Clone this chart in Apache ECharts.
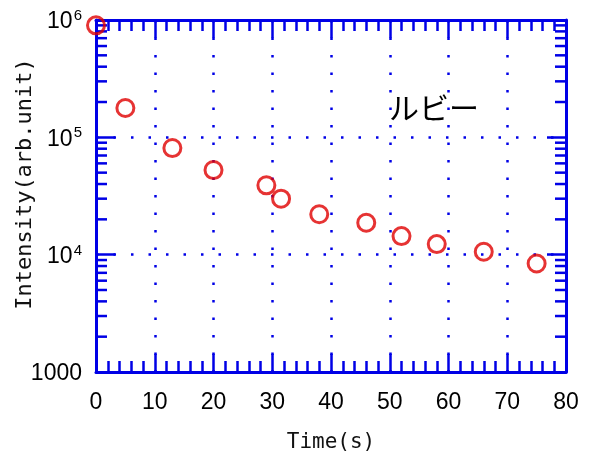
<!DOCTYPE html>
<html>
<head>
<meta charset="UTF-8">
<title>ルビー</title>
<style>
  html, body { margin: 0; padding: 0; background: #fff; }
  #chart { width: 592px; height: 461px; }
</style>
</head>
<body>
<div id="chart"></div>
<script src="https://cdn.jsdelivr.net/npm/echarts@6/dist/echarts.min.js"></script>
<script>
var timeSec = [0, 5, 13, 20, 29, 31.5, 38, 46, 52, 58, 66, 75];
var intensity = [900000, 178000, 81000, 52600, 39000, 30000, 22100, 18700, 14400, 12300, 10600, 8400];

// log minor ticks (2..9 in every decade)
var minorTickValues = [
  2000, 3000, 4000, 5000, 6000, 7000, 8000, 9000,
  20000, 30000, 40000, 50000, 60000, 70000, 80000, 90000,
  200000, 300000, 400000, 500000, 600000, 700000, 800000, 900000
];

var blue = '#0000e6';
var points = timeSec.map(function (t, i) { return [t, intensity[i]]; });

var chart = echarts.init(document.getElementById('chart'));

function renderMinor(params, api) {
  var y = api.coord([0, api.value(0)])[1];
  var cs = params.coordSys;
  var len = 11;
  var st = { stroke: blue, lineWidth: 2.5 };
  return {
    type: 'group',
    children: [
      { type: 'line', shape: { x1: cs.x, y1: y, x2: cs.x + len, y2: y }, style: st },
      { type: 'line', shape: { x1: cs.x + cs.width - len, y1: y, x2: cs.x + cs.width, y2: y }, style: st }
    ]
  };
}

var dotted = { color: blue, width: 2.5, type: [2.5, 15] };

var option = {
  animation: false,
  grid: { left: 96, right: 26, top: 20, bottom: 89 },
  xAxis: [{
    type: 'value',
    min: 0, max: 80, interval: 10,
    name: 'Time(s)',
    nameLocation: 'middle',
    nameGap: 60,
    nameTextStyle: { fontFamily: 'DejaVu Sans Mono', fontSize: 21, color: '#111' },
    axisLine: { show: true, onZero: false, lineStyle: { color: blue, width: 3 } },
    axisTick: { show: true, inside: true, length: 18, lineStyle: { color: blue, width: 2.5 } },
    minorTick: { show: true, splitNumber: 5, length: 11, lineStyle: { color: blue, width: 2.5 } },
    axisLabel: { fontFamily: 'Liberation Sans', fontSize: 23, color: '#000', margin: 19 },
    splitLine: { show: true, lineStyle: dotted }
  }, {
    type: 'value',
    position: 'top',
    min: 0, max: 80, interval: 10,
    axisLine: { show: true, onZero: false, lineStyle: { color: blue, width: 3 } },
    axisTick: { show: true, inside: true, length: 18, lineStyle: { color: blue, width: 2.5 } },
    minorTick: { show: true, splitNumber: 5, length: 11, lineStyle: { color: blue, width: 2.5 } },
    axisLabel: { show: false },
    splitLine: { show: false }
  }],
  yAxis: [{
    type: 'log',
    logBase: 10,
    min: 1000, max: 1000000,
    axisLine: { show: true, onZero: false, lineStyle: { color: blue, width: 3 } },
    axisTick: { show: true, inside: true, length: 19, lineStyle: { color: blue, width: 2.5 } },
    axisLabel: {
      margin: 14,
      fontFamily: 'Liberation Sans', fontSize: 23, color: '#000',
      padding: [4, 0, 0, 0],
      formatter: function (v) {
        if (v <= 1000) return '1000';
        return '10{sup|' + Math.round(Math.log10(v)) + '}';
      },
      rich: {
        sup: { fontFamily: 'Liberation Sans', fontSize: 15, color: '#000', verticalAlign: 'top', padding: [0, 0, 12, 1] }
      }
    },
    splitLine: { show: true, lineStyle: dotted }
  }, {
    type: 'log',
    logBase: 10,
    position: 'right',
    min: 1000, max: 1000000,
    axisLine: { show: true, onZero: false, lineStyle: { color: blue, width: 3 } },
    axisTick: { show: true, inside: true, length: 19, lineStyle: { color: blue, width: 2.5 } },
    axisLabel: { show: false },
    splitLine: { show: false }
  }],
  graphic: [{
    type: 'text',
    x: 25, y: 184,
    rotation: Math.PI / 2,
    style: {
      text: 'Intensity(arb.unit)',
      align: 'center', verticalAlign: 'middle',
      fontFamily: 'DejaVu Sans Mono', fontSize: 22, fill: '#111'
    }
  }, {
    type: 'text',
    x: 389, y: 108,
    style: {
      text: 'ルビー',
      verticalAlign: 'middle',
      fontFamily: 'Noto Sans CJK JP', fontSize: 30, fill: '#000'
    }
  }],
  series: [{
    type: 'custom',
    xAxisIndex: 0, yAxisIndex: 0,
    renderItem: renderMinor,
    data: minorTickValues.map(function (v) { return [v]; }),
    encode: { y: 0 },
    silent: true,
    clip: false,
    z: 1
  }, {
    type: 'scatter',
    xAxisIndex: 0, yAxisIndex: 0,
    data: points,
    symbol: 'circle',
    symbolSize: 17,
    clip: false,
    itemStyle: { color: 'rgba(0,0,0,0)', borderColor: '#e00000', borderWidth: 3 },
    z: 5
  }]
};

chart.setOption(option);
</script>
</body>
</html>
